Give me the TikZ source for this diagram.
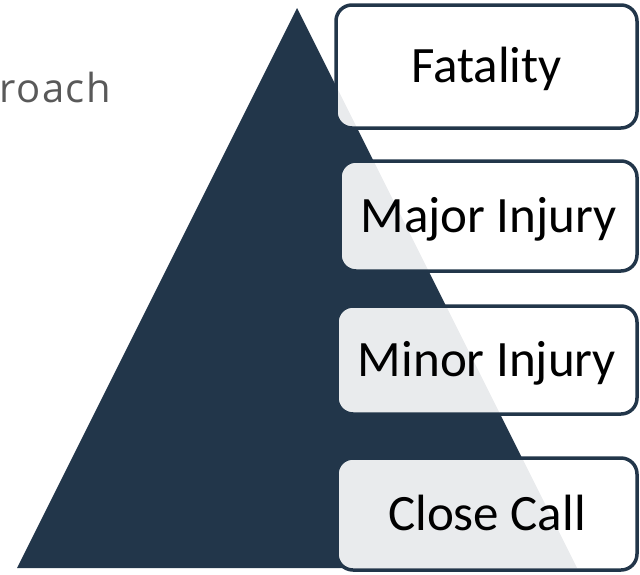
\documentclass[tikz,border=0pt]{standalone}
\usepackage{fontspec}
\setmainfont{Carlito}
\newfontfamily\titlefont[LetterSpace=4]{Open Sans}
\definecolor{navy}{HTML}{22364A}
\definecolor{greytext}{HTML}{595959}
\tikzset{
  level/.style={draw=navy, line width=3.5pt, rounded corners=16pt,
    fill=white, fill opacity=0.9, text opacity=1, inner sep=0pt,
    minimum width=300pt, text height=32pt, text depth=0pt,
    font=\fontsize{51}{60}\selectfont}
}

\begin{document}
\begin{tikzpicture}[x=1pt,y=-1pt]
        \useasboundingbox (0,0) rectangle (640,574);
        \clip (0,0) rectangle (640,574);
        \node[anchor=base west, inner sep=0pt, text=greytext,
          font=\titlefont\fontsize{40}{46}\selectfont] (title) at (-1,102) {roach};
        % pyramid
        \fill[navy] (17,568) -- (297,8) -- (577,568) -- cycle;
        % levels, top to bottom
        \node[level, minimum width=301pt, minimum height=123pt] (fatal) at (486.5,66.5) {Fatality};
        \node[level, minimum width=297pt, minimum height=110pt] (major) at (488.5,216) {Major Injury};
        \node[level, minimum height=108pt] (minor) at (487,360) {Minor Injury};
        \node[level, minimum height=112pt] (close) at (487,514) {Close Call};
      \end{tikzpicture}
\end{document}
